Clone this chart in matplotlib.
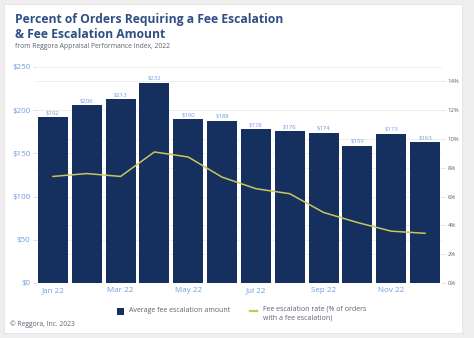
import matplotlib
matplotlib.use("Agg")
import matplotlib.pyplot as plt
from matplotlib.patches import FancyBboxPatch, Rectangle
from matplotlib.lines import Line2D

months = ["Jan 22", "Feb 22", "Mar 22", "Apr 22", "May 22", "Jun 22",
          "Jul 22", "Aug 22", "Sep 22", "Oct 22", "Nov 22", "Dec 22"]
avg_fee = [192, 206, 213, 232, 190, 188, 178, 176, 174, 159, 173, 163]
esc_rate = [7.4, 7.6, 7.4, 9.1, 8.75, 7.35, 6.55, 6.2, 4.9, 4.2, 3.6, 3.45]
fee_ticks = [0, 50, 100, 150, 200, 250]
rate_ticks = [0, 2, 4, 6, 8, 10, 12, 14]

NAVY, LINE, TICK, TITLE, GREY = "#15305f", "#c9c65c", "#6f9de0", "#2f4f86", "#5c6370"
FONT = ["Open Sans", "DejaVu Sans"]
plt.rcParams["font.family"] = FONT

W, H = 474, 338
fig = plt.figure(figsize=(W / 100, H / 100), dpi=100, facecolor="#eeeeee")
# white card behind everything
fig.patches.append(FancyBboxPatch((4 / W, 5 / H), 458 / W, 329 / H, transform=fig.transFigure,
                                  boxstyle="square,pad=0", fc="white", ec="#e2e2e2", lw=0.6,
                                  zorder=-10))

fig.text(15 / W, 1 - 20 / H, "Percent of Orders Requiring a Fee Escalation",
         fontsize=8.7, fontweight="bold", color=TITLE, va="center")
fig.text(15 / W, 1 - 34 / H, "& Fee Escalation Amount",
         fontsize=8.7, fontweight="bold", color=TITLE, va="center")
fig.text(15 / W, 1 - 46 / H, "from Reggora Appraisal Performance Index, 2022",
         fontsize=4.9, color=GREY, va="center")

ax = fig.add_axes([36 / W, 1 - 283 / H, (442 - 36) / W, (283 - 67) / H])
x = list(range(len(months)))
ax.bar(x, avg_fee, width=0.89, color=NAVY, zorder=2)
for xi, v in zip(x, avg_fee):
    ax.text(xi, v + 2, f"${v}", ha="center", va="bottom", fontsize=4.3, color=TICK)
ax.set_xlim(-0.5, len(months) - 0.5)
ax.set_ylim(0, 250)
ax.set_yticks(fee_ticks)
ax.set_yticklabels([f"${t}" for t in fee_ticks])
ax.set_xticks(x[::2])
ax.set_xticklabels(months[::2])
ax.tick_params(axis="y", labelsize=5.8, colors=TICK, length=2, width=0.5, color="#cccccc", pad=2)
ax.tick_params(axis="x", labelsize=5.8, colors=TICK, length=0, pad=3)
ax.grid(axis="y", color="#ececec", lw=0.6, zorder=0)
ax.set_axisbelow(True)
for s in ax.spines.values():
    s.set_visible(False)

ax2 = ax.twinx()
ax2.plot(x, esc_rate, color=LINE, lw=1.1, zorder=3)
ax2.set_ylim(0, 15)
ax2.set_yticks(rate_ticks)
ax2.set_yticklabels([f"{t}%" for t in rate_ticks])
ax2.tick_params(axis="y", labelsize=4.3, colors=GREY, length=2, width=0.5, color="#cccccc", pad=2)
ax2.patch.set_visible(False)
for s in ax2.spines.values():
    s.set_visible(False)
# right-axis gridlines drawn on the base axes so they stay behind the bars
for t in rate_ticks[1:]:
    ax.axhline(t * 250 / 15, color="#ececec", lw=0.6, zorder=0)

# legend
fig.patches.append(Rectangle((117 / W, 1 - 315 / H), 7 / W, 7 / H, transform=fig.transFigure,
                             fc=NAVY, ec="none"))
fig.text(129 / W, 1 - 311 / H, "Average fee escalation amount", fontsize=5.0, color=GREY, va="center")
fig.lines.append(Line2D([250 / W, 257 / W], [1 - 311 / H, 1 - 311 / H], transform=fig.transFigure,
                        color=LINE, lw=1.6))
fig.text(263 / W, 1 - 306 / H, "Fee escalation rate (% of orders\nwith a fee escalation)",
         fontsize=5.0, color=GREY, va="top", linespacing=1.35)
fig.text(10 / W, 1 - 324 / H, "© Reggora, Inc. 2023", fontsize=4.9, color=GREY, va="center")

fig.savefig("out.png", dpi=100, facecolor=fig.get_facecolor())
